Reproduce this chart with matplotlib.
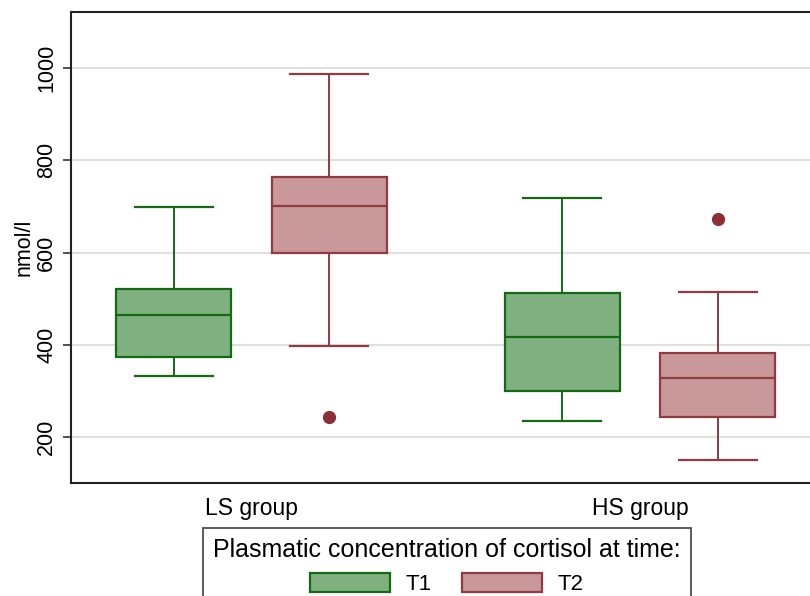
import matplotlib
matplotlib.use("Agg")
import matplotlib.pyplot as plt
from matplotlib.patches import Patch

plt.rcParams['font.family'] = ['Liberation Sans', 'DejaVu Sans']

groups = ["LS group", "HS group"]
series = ["T1", "T2"]
# per box order: LS-T1, LS-T2, HS-T1, HS-T2
whislo = [332, 397, 235, 149]
q1 = [374, 600, 300, 244]
med = [464, 700, 417, 328]
q3 = [522, 763, 513, 383]
whishi = [699, 988, 719, 514]
fliers = [[], [244], [], [672]]

ylabel = "nmol/l"
yticks = [200, 400, 600, 800, 1000]
legend_title = "Plasmatic concentration of cortisol at time:"

fills = ["#80b080", "#c8989b"]
edges = ["#146a14", "#913a40"]
flier_color = "#8e2f35"

fig = plt.figure(figsize=(8.10, 5.96), dpi=100)
ax = fig.add_axes([71/810, 1 - 483/596, 1 - 71/810, (483 - 12)/596])

positions = []
for gi in range(len(groups)):
    for si in range(len(series)):
        positions.append(gi + 1 + (si - 0.5) * 0.4)

for i in range(len(positions)):
    si = i % 2
    st = dict(med=med[i], q1=q1[i], q3=q3[i], whislo=whislo[i], whishi=whishi[i], fliers=fliers[i])
    ax.bxp([st], positions=[positions[i]], widths=0.296, capwidths=0.2, patch_artist=True,
           manage_ticks=False,
           boxprops=dict(facecolor=fills[si], edgecolor=edges[si], linewidth=1.6),
           medianprops=dict(color=edges[si], linewidth=1.6),
           whiskerprops=dict(color=edges[si], linewidth=1.4),
           capprops=dict(color=edges[si], linewidth=1.6),
           flierprops=dict(marker='o', markerfacecolor=flier_color, markeredgecolor=flier_color,
                           markersize=8.5))

ax.set_xlim(1 - (251.5 - 71) / 388.5, 2 + (810 - 640) / 388.5)
ax.set_ylim(100, 1122)
ax.set_yticks(yticks)
ax.set_yticklabels([str(v) for v in yticks], rotation=90, va='center', fontsize=15.5)
ax.set_xticks([1, 2])
ax.set_xticklabels(groups, fontsize=16.5)
ax.tick_params(axis='x', length=0, pad=10)
ax.tick_params(axis='y', length=6, width=1.2, color='#333333', pad=4)
ax.set_ylabel(ylabel, fontsize=15.5, labelpad=1)
ax.grid(axis='y', color='#e0e0e0', linewidth=1.5)
ax.set_axisbelow(True)
for side in ['top', 'left', 'bottom']:
    ax.spines[side].set_color('#222222')
    ax.spines[side].set_linewidth(1.5)
ax.spines['right'].set_visible(False)

handles = [Patch(facecolor=fills[i], edgecolor=edges[i], linewidth=1.6, label=series[i]) for i in range(2)]
leg = fig.legend(handles=handles, title=legend_title, ncol=2, loc='upper left',
                 bbox_to_anchor=(203/810, 1 - 528/596), fontsize=16, title_fontsize=18,
                 frameon=True, fancybox=False, edgecolor='#222222',
                 handlelength=3.6, handleheight=0.95, handletextpad=0.72, columnspacing=1.35,
                 borderpad=0.45, borderaxespad=0)
leg.get_frame().set_linewidth(1.3)

fig.savefig("out.png", dpi=100)
